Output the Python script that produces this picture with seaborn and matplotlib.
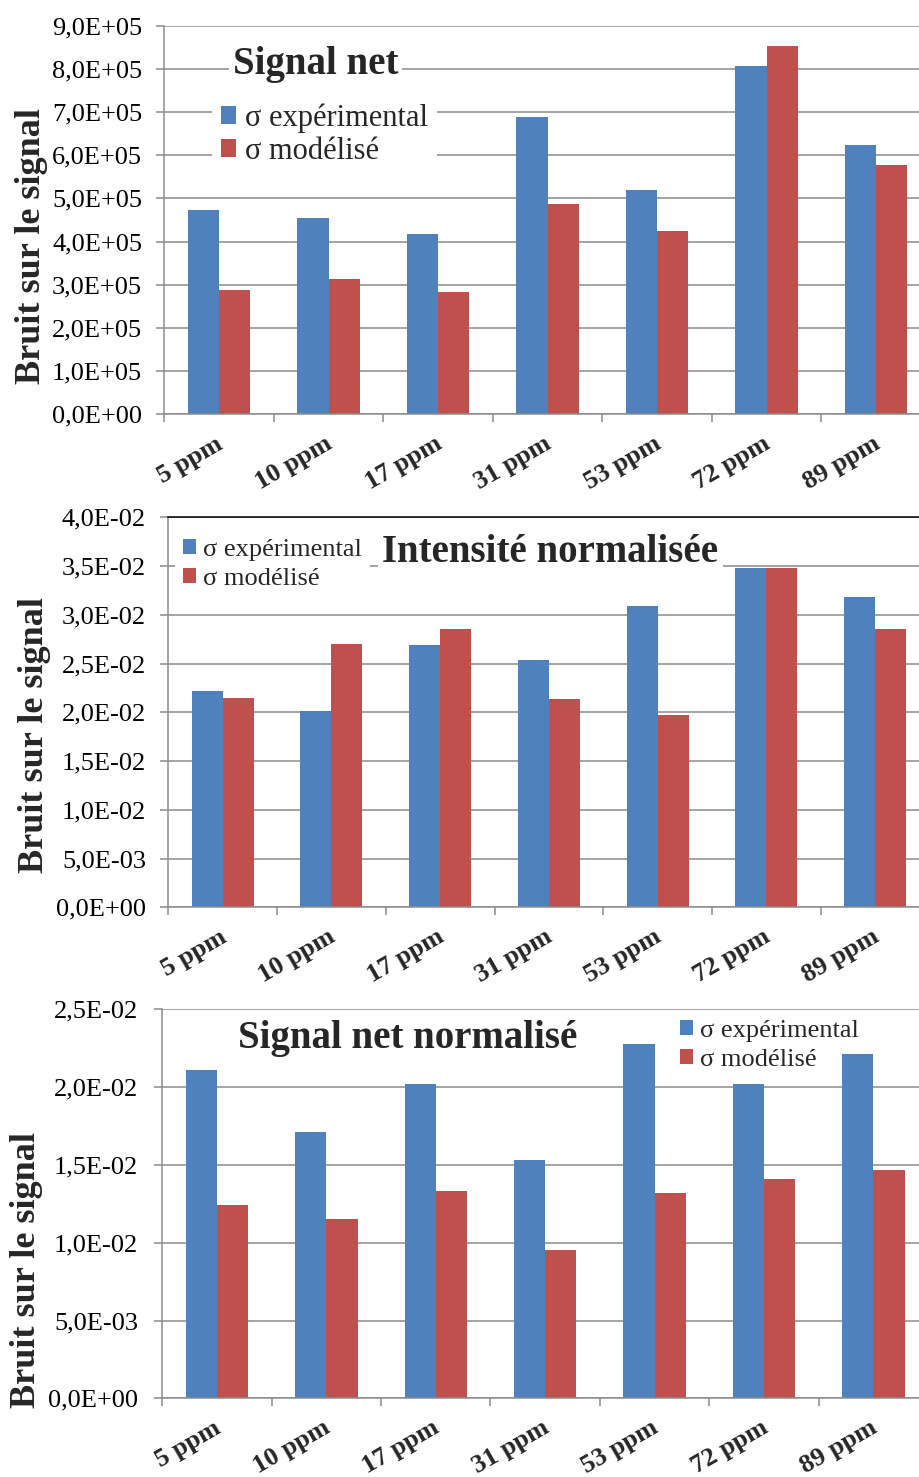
import numpy as np
import pandas as pd
import matplotlib
matplotlib.use("Agg")
import matplotlib.pyplot as plt
import seaborn as sns
from matplotlib.ticker import FixedLocator, FuncFormatter
import matplotlib.transforms as mtransforms

# ---------------- data ----------------
categories = ["5 ppm", "10 ppm", "17 ppm", "31 ppm", "53 ppm", "72 ppm", "89 ppm"]
series_names = ["σ expérimental", "σ modélisé"]

signal_net_exp = [4.73e5, 4.55e5, 4.17e5, 6.89e5, 5.19e5, 8.07e5, 6.23e5]
signal_net_mod = [2.89e5, 3.13e5, 2.83e5, 4.87e5, 4.24e5, 8.53e5, 5.78e5]

intensite_exp = [2.22e-2, 2.01e-2, 2.69e-2, 2.54e-2, 3.09e-2, 3.48e-2, 3.18e-2]
intensite_mod = [2.15e-2, 2.70e-2, 2.85e-2, 2.14e-2, 1.97e-2, 3.48e-2, 2.85e-2]

snn_exp = [2.11e-2, 1.71e-2, 2.02e-2, 1.53e-2, 2.28e-2, 2.02e-2, 2.21e-2]
snn_mod = [1.24e-2, 1.15e-2, 1.33e-2, 0.95e-2, 1.32e-2, 1.41e-2, 1.47e-2]

titles = ["Signal net", "Intensité normalisée", "Signal net normalisé"]
ylabel = "Bruit sur le signal"

yticks_1 = [0, 1e5, 2e5, 3e5, 4e5, 5e5, 6e5, 7e5, 8e5, 9e5]
yticks_2 = [0, 5e-3, 1e-2, 1.5e-2, 2e-2, 2.5e-2, 3e-2, 3.5e-2, 4e-2]
yticks_3 = [0, 5e-3, 1e-2, 1.5e-2, 2e-2, 2.5e-2]

# ---------------- style ----------------
sns.set_style("white")
plt.rcParams["font.family"] = ["Liberation Serif", "DejaVu Serif"]

BLUE = "#4F81BD"
RED = "#C0504D"
GRID = "#8C8C8C"

W, H = 920, 1477
fig = plt.figure(figsize=(W / 100, H / 100), dpi=100)


def fx(x):
    return x / W


def fy(y):
    return 1 - y / H


def sci_fr(v, pos=None):
    if abs(v) < 1e-30:
        return "0,0E+00"
    e = int(np.floor(np.log10(abs(v)) + 1e-9))
    m = v / 10 ** e
    return f"{m:.1f}".replace(".", ",") + f"E{e:+03d}"


panels = [
    dict(exp=signal_net_exp, mod=signal_net_mod, yticks=yticks_1,
         box=(164.3, 930.8, 25.7, 414.3), title=titles[0], title_xy=(315.5, 74),
         leg_xy=(212, 134.5), leg_fs=22, leg_sp=0.13, ylab_xy=(32, 245.5), ypad=10,
         topcolor=None),
    dict(exp=intensite_exp, mod=intensite_mod, yticks=yticks_2,
         box=(168.3, 929.5, 517.3, 907.3), title=titles[1], title_xy=(550.5, 561.7),
         leg_xy=(175, 564.5), leg_fs=19, leg_sp=0.27, ylab_xy=(35, 735), ypad=10,
         topcolor="black"),
    dict(exp=snn_exp, mod=snn_mod, yticks=yticks_3,
         box=(162.3, 928.1, 1009.3, 1398.3), title=titles[2], title_xy=(408, 1048),
         leg_xy=(672, 1045.3), leg_fs=19, leg_sp=0.25, ylab_xy=(26.5, 1269.5), ypad=11.5,
         topcolor=None),
]

for p in panels:
    x0, x1, y0, y1 = p["box"]
    ax = fig.add_axes([fx(x0), fy(y1), (x1 - x0) / W, (y1 - y0) / H])

    df = pd.DataFrame({
        "cat": categories * 2,
        "serie": [series_names[0]] * len(categories) + [series_names[1]] * len(categories),
        "val": list(p["exp"]) + list(p["mod"]),
    })
    sns.barplot(data=df, x="cat", y="val", hue="serie", order=categories,
                hue_order=series_names, palette=[BLUE, RED], saturation=1,
                width=0.57, linewidth=0, errorbar=None, ax=ax)

    ax.set_xlim(-0.5, len(categories) - 0.5)
    ax.set_ylim(p["yticks"][0], p["yticks"][-1])
    ax.set_xlabel("")

    # grid & spines
    ax.set_axisbelow(True)
    ax.yaxis.grid(True, color=GRID, linewidth=1.1)
    ax.xaxis.grid(False)
    ax.spines["right"].set_visible(False)
    if p["topcolor"]:
        ax.spines["top"].set_visible(True)
        ax.spines["top"].set_color(p["topcolor"])
        ax.spines["top"].set_linewidth(1.1)
    else:
        ax.spines["top"].set_visible(False)
    for s in ["left", "bottom"]:
        ax.spines[s].set_visible(True)
        ax.spines[s].set_color(GRID)
        ax.spines[s].set_linewidth(1.1)

    # y ticks
    ax.yaxis.set_major_locator(FixedLocator(p["yticks"]))
    ax.yaxis.set_major_formatter(FuncFormatter(sci_fr))
    ax.tick_params(axis="y", which="major", left=True, length=6, width=1.1, color=GRID,
                   labelsize=19, labelcolor="black", pad=p["ypad"])

    # x ticks: labels at centres, tick marks at boundaries
    ax.set_xticks(range(len(categories)))
    ax.set_xticklabels(categories, fontsize=19, fontweight="bold", rotation=30,
                       ha="right", va="top", rotation_mode="anchor")
    ax.set_xticks(np.arange(-0.5, len(categories), 1.0), minor=True)
    ax.tick_params(axis="x", which="major", bottom=True, length=0, pad=13)
    ax.tick_params(axis="x", which="minor", bottom=True, length=6, width=1.1, color=GRID)
    offset = mtransforms.ScaledTranslation(-4 / 100, 0, fig.dpi_scale_trans)
    for lab in ax.get_xticklabels():
        lab.set_transform(lab.get_transform() + offset)

    # y label
    ax.set_ylabel(ylabel, fontsize=26, fontweight="bold", va="center")
    ax.yaxis.set_label_coords(fx(p["ylab_xy"][0]), fy(p["ylab_xy"][1]), transform=fig.transFigure)

    # legend
    old = ax.get_legend()
    handles = old.legend_handles
    labels = [t.get_text() for t in old.texts]
    old.remove()
    leg = ax.legend(handles, labels, loc="center left",
                    bbox_to_anchor=(fx(p["leg_xy"][0]), fy(p["leg_xy"][1])),
                    bbox_transform=fig.transFigure, frameon=True, facecolor="white",
                    edgecolor="none", framealpha=1, fancybox=False, fontsize=p["leg_fs"],
                    handlelength=0.5, handleheight=0.5, handletextpad=0.27,
                    labelspacing=p["leg_sp"], borderpad=0.3, borderaxespad=0)
    leg.set_zorder(0.8)

    # title
    fig.text(fx(p["title_xy"][0]), fy(p["title_xy"][1]), p["title"], ha="center",
             va="baseline", fontsize=28, fontweight="bold",
             bbox=dict(facecolor="white", edgecolor="none", pad=3))

fig.savefig("out.png", dpi=100)
